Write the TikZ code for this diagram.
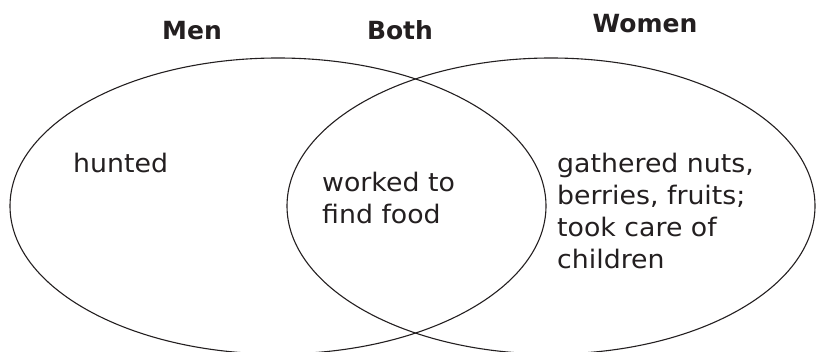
\documentclass[tikz,border=0pt]{standalone}
\usepackage{fontspec}
\setmainfont{DejaVu Sans}
\newfontfamily\bodyfont{DejaVu Sans}[FakeStretch=1.05]
\definecolor{ink}{RGB}{35,31,32}
\tikzset{
  head/.style={font=\fontsize{25}{30}\selectfont\bfseries, text=ink, anchor=base, inner sep=0pt},
  body/.style={font=\bodyfont\fontsize{25.5}{32}\selectfont, text=ink, anchor=base west, inner sep=0pt, align=left},
  setline/.style={draw=ink, line width=1.1pt}
}
\begin{document}
\begin{tikzpicture}[x=1pt,y=-1pt]
\useasboundingbox (0,0) rectangle (817,351);
\begin{scope}
\clip (0,0) rectangle (817,351);
\draw[setline] (278,206) ellipse [x radius=268, y radius=148];
\draw[setline] (551,206) ellipse [x radius=264, y radius=148];
\end{scope}
\node[head] (men) at (192,39) {Men};
\node[head] (both) at (400,39) {Both};
\node[head] (women) at (645,32) {Women};
\node[body] (hunted) at (73,172) {hunted};
\node[body] (worked) at (322,191) {worked to};
\node[body] (find) at (322,223) {find food};
\node[body] (g1) at (557,172) {gathered nuts,};
\node[body] (g2) at (557,204) {berries, fruits;};
\node[body] (g3) at (557,236) {took care of};
\node[body] (g4) at (557,268) {children};
\end{tikzpicture}
\end{document}
